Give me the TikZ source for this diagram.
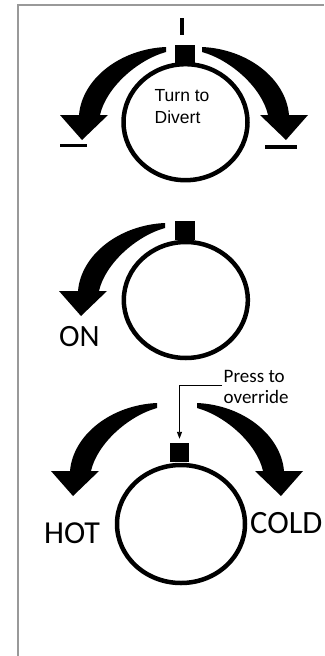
\documentclass[tikz,border=0pt]{standalone}
\usepackage{fontspec}
\setmainfont{Liberation Sans}
\newfontfamily\carl{Carlito}
\usetikzlibrary{shapes.geometric,arrows.meta}
\tikzset{
  turnarrow/.pic={\fill (0,0) .. controls (-46,2) and (-84,32) .. (-87,68) -- (-106,68) -- (-84,93) -- (-58,68) -- (-66,68) .. controls (-60,41) and (-29,13) .. (0,5) -- cycle;},
  knob/.style={draw, ellipse, line width=4.5pt, minimum width=124pt, minimum height=116pt, inner sep=0pt},
  stem/.style={fill, rectangle, minimum width=19.5pt, minimum height=19pt, inner sep=0pt},
  frameline/.style={draw=black!40, line width=2.5pt},
  tickmark/.style={line width=3.5pt},
  bigl/.style={font=\carl\fontsize{31}{31}\selectfont, inner sep=0pt, anchor=base west},
  leader/.style={line width=0.9pt, -{Triangle[length=7pt,width=5pt]}, shorten >=4pt},
}
\begin{document}
\begin{tikzpicture}[x=1pt,y=-1pt]
\useasboundingbox (0,0) rectangle (324,656);
\clip (0,0) rectangle (324,656);
\fill[white] (0,0) rectangle (324,656);
\draw[frameline] (18,656) -- (18,5) -- (324,5);

% knob 1
\node[knob] (k1) at (185.5,122.2) {};
\node[stem] (s1) at (185,54) {};
\node[font=\fontsize{17.5}{21.7}\selectfont, align=left, anchor=north west, inner sep=0pt] (t1) at (154.5,89.3) {Turn to\\Divert};
\draw[tickmark] (182,18.3) -- (182,35);
\pic at (166,47) {turnarrow};
\pic[xscale=-1] at (202,47) {turnarrow};
\draw[tickmark] (60,145.3) -- (86.7,145.3);
\draw[tickmark] (265,147) -- (296.7,147);

% knob 2
\node[knob] (k2) at (185.8,300) {};
\node[stem] (s2) at (185,230.5) {};
\pic at (165,223) {turnarrow};
\node[bigl] (on) at (59,346.7) {ON};

% knob 3
\node[knob, minimum width=128pt, minimum height=118pt] (k3) at (181,524) {};
\node[stem] (s3) at (179.5,452.5) {};
\pic at (157,403) {turnarrow};
\pic[xscale=-1] at (197,403) {turnarrow};
\node[bigl, font=\carl\fontsize{32}{32}\selectfont] (hot) at (44,543.3) {HOT};
\node[bigl, font=\carl\fontsize{32.5}{32.5}\selectfont] (cold) at (250,533.3) {COLD};
\node[font=\carl\fontsize{19}{21}\selectfont, align=left, anchor=north west, inner sep=1.5pt] (press) at (222,369) {Press to\\override};
\draw[leader] ([yshift=2pt]press.west) -| (s3.north);
\end{tikzpicture}
\end{document}
